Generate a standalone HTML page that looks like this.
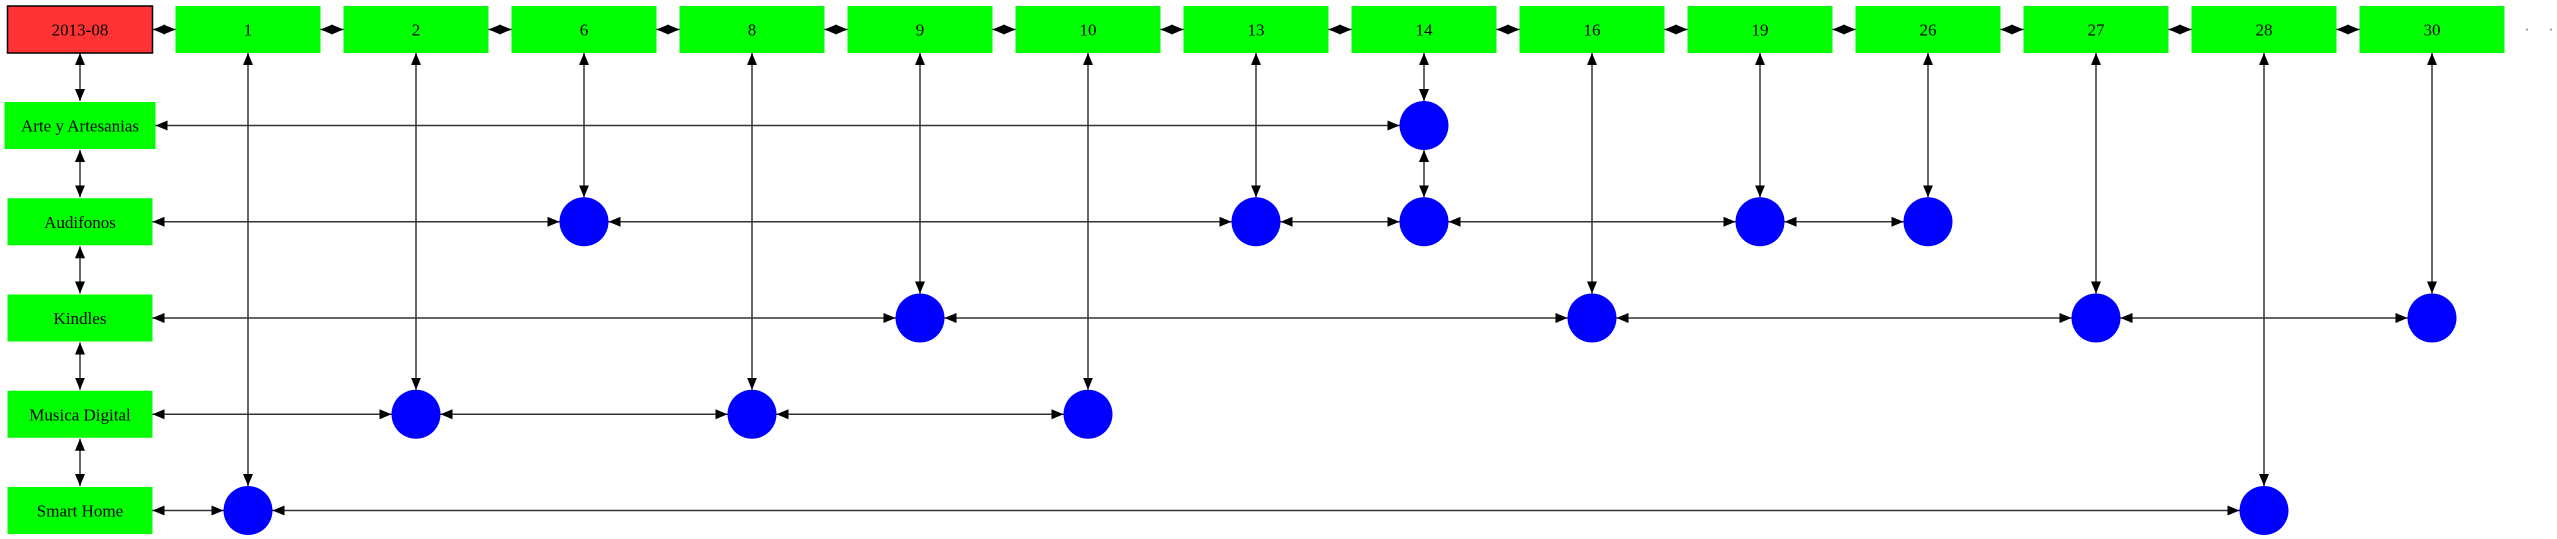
<!DOCTYPE html>
<html><head><meta charset="utf-8"><style>
html,body{margin:0;padding:0;background:#fff;}
svg{display:block;}
text{font-family:"Liberation Serif",serif;font-size:17px;fill:#000;}
</style></head><body>
<svg id="chart" width="2557" height="539" viewBox="0 0 2557 539" xmlns="http://www.w3.org/2000/svg">
<defs>
<marker id="ah" viewBox="0 0 12 10" refX="12" refY="5" markerWidth="12" markerHeight="10" markerUnits="userSpaceOnUse" orient="auto-start-reverse">
<path d="M0,0 L12,5 L0,10 z" fill="#000"/>
</marker>
</defs>
<g id="edges"></g>
<g id="nodes"></g>
</svg>
<script>
const title = "2013-08";
const columns = ["1","2","6","8","9","10","13","14","16","19","26","27","28","30"];
const categories = ["Arte y Artesanias","Audifonos","Kindles","Musica Digital","Smart Home"];
const rowArte = ["14"];
const rowAudifonos = ["6","13","14","19","26"];
const rowKindles = ["9","16","27","30"];
const rowMusica = ["2","8","10"];
const rowSmart = ["1","28"];
const rows = [rowArte, rowAudifonos, rowKindles, rowMusica, rowSmart];

const NS = "http://www.w3.org/2000/svg";
const edges = document.getElementById('edges');
const nodes = document.getElementById('nodes');
const colX = i => 248 + 168 * i;
const rowY = i => 125.5 + 96.25 * i;
const topY = 29.5, boxW = 145, boxH = 47, R = 24.5;
function el(tag, attrs, parent) {
  const e = document.createElementNS(NS, tag);
  for (const k in attrs) e.setAttribute(k, attrs[k]);
  parent.appendChild(e); return e;
}
function arrow(x1, y1, x2, y2, name) {
  const l = el('line', {x1, y1, x2, y2, stroke: '#333', 'stroke-width': 1.5, 'marker-start': 'url(#ah)', 'marker-end': 'url(#ah)'}, edges);
  
  
}
function box(cx, cy, w, label, fill, name, stroke) {
  const g = el('g', {}, nodes);
  
  
  el('rect', {x: cx - w / 2, y: cy - boxH / 2, width: w, height: boxH, fill: fill, stroke: stroke || 'none', 'stroke-width': 1.5}, g);
  const t = el('text', {x: cx, y: cy + 6, 'text-anchor': 'middle'}, g);
  t.textContent = label;
}
// title box
box(80, topY, 145, title, '#ff3333', 'title-box', '#000');
// header chain
arrow(153, topY, colX(0) - boxW / 2, topY, 'header-link');
columns.forEach((c, i) => {
  box(colX(i), topY, boxW, c, '#00ff00', 'column-header-' + c);
  if (i < columns.length - 1) arrow(colX(i) + boxW / 2, topY, colX(i + 1) - boxW / 2, topY, 'header-link');
});
// trailing dots
[2527, 2551].forEach(x => { const d = el('circle', {cx: x, cy: topY, r: 1, fill: '#888'}, nodes);   });
// category boxes and left chain
categories.forEach((c, r) => {
  box(80, rowY(r), r === 0 ? 151 : 145, c, '#00ff00', 'category-' + c.toLowerCase().replace(/ /g, '-'));
  const prevBottom = r === 0 ? topY + boxH / 2 : rowY(r - 1) + boxH / 2 + 1;
  arrow(80, prevBottom, 80, rowY(r) - boxH / 2 - 1, 'category-link');
});
// row chains
rows.forEach((row, r) => {
  let px = r === 0 ? 155.5 : 152.5;
  row.forEach(c => {
    const x = colX(columns.indexOf(c));
    arrow(px, rowY(r), x - R, rowY(r), 'row-link');
    px = x + R;
  });
});
// column chains and dots
columns.forEach((c, i) => {
  let py = topY + boxH / 2;
  rows.forEach((row, r) => {
    if (row.includes(c)) {
      arrow(colX(i), py, colX(i), rowY(r) - R, 'column-link');
      py = rowY(r) + R;
      const d = el('ellipse', {cx: colX(i), cy: rowY(r), rx: R, ry: R, fill: '#0000ff'}, nodes);
      
      
    }
  });
});
</script>
</body></html>
